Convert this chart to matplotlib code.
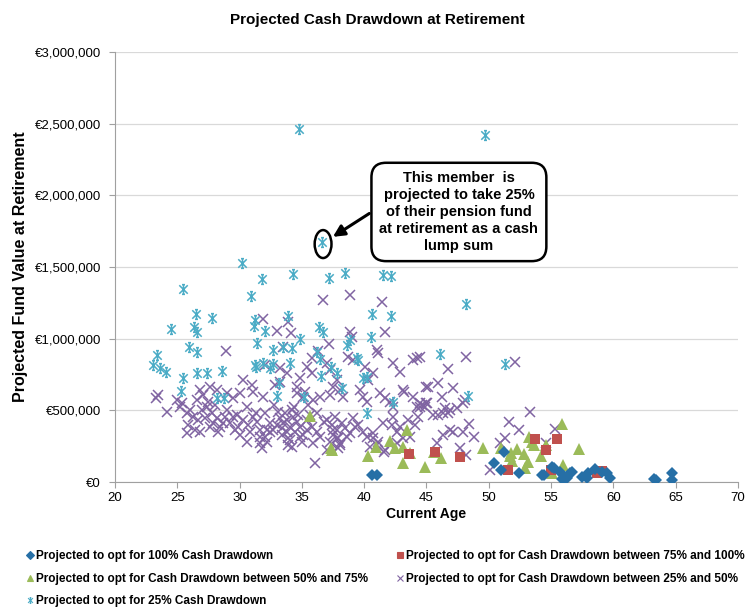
import numpy as np
import matplotlib
matplotlib.use("Agg")
import matplotlib.pyplot as plt
from matplotlib.path import Path
from matplotlib.patches import Ellipse
from matplotlib.lines import Line2D

plt.rcParams['font.family'] = ['Liberation Sans', 'DejaVu Sans']

# ---- data (age, projected fund value in EUR thousands) ----
age_100 = [40.6, 41.0, 50.4, 51.2, 51.0, 52.4, 54.3, 54.4, 55.05, 55.2, 55.7, 55.9, 56.1,
           56.25, 56.5, 56.65, 57.45, 57.85, 58.0, 58.5, 59.06, 59.46, 59.73, 63.26, 63.4,
           64.68, 64.68]
val_100 = [49, 49, 130, 211, 84, 60, 49, 49, 107, 96, 72, 19, 26,
           26, 60, 72, 37, 26, 60, 89, 72, 60, 26, 21, 14,
           60, 14]

age_75_100 = [43.6, 45.68, 47.7, 51.57, 53.7, 54.6, 55.47, 55.0, 58.7, 59.06]
val_75_100 = [195, 207, 172, 84, 300, 223, 298, 84, 65, 79]

age_50_75 = [35.65, 37.4, 37.35, 40.33, 40.95, 42.07, 42.47, 43.14, 43.4, 43.7, 43.08, 44.9,
             45.6, 46.2, 49.5, 50.95, 51.7, 51.9, 51.75, 52.3, 52.85, 53.17, 52.9, 53.25,
             53.5, 53.6, 54.2, 54.6, 55.05, 55.85, 55.93, 57.24]
val_50_75 = [463, 223, 240, 181, 246, 286, 235, 242, 365, 200, 130, 107,
             207, 165, 240, 235, 181, 149, 200, 230, 193, 142, 96, 312,
             281, 258, 181, 258, 65, 405, 119, 228]

age_25_50 = [26.02, 26.29, 26.69, 25.89, 26.42, 26.82, 25.75, 27.36, 27.76, 28.16, 27.89, 28.43,
             28.83, 28.29, 29.23, 29.63, 30.03, 30.3, 30.7, 31.1, 31.37, 31.64, 30.57, 31.64,
             32.17, 31.77, 32.44, 32.71, 33.24, 33.51, 33.78, 34.05, 34.31, 34.58, 34.85, 33.38,
             33.91, 34.45, 35.12, 34.18, 35.38, 35.78, 36.19, 36.45, 35.92, 34.98, 35.65, 36.99,
             37.39, 37.79, 37.52, 37.92, 38.06, 37.66, 38.19, 38.46, 37.26, 37.92, 38.59, 39.13,
             39.53, 39.93, 40.2, 40.73, 41.13, 40.47, 41.67, 41.54, 42.34, 42.87, 43.54, 44.08,
             44.34, 43.68, 42.61, 36.05,
             33.64, 34.18, 34.71, 32.97, 33.38, 35.38, 33.78, 34.85,
             25.22, 26.96, 27.22, 27.62, 28.69, 29.5, 29.9, 30.84, 32.04, 32.44,
             36.72, 38.86, 41.4, 31.85, 33.91, 41.67, 32.97, 34.1, 38.86, 38.99, 37.2, 28.91,
             33.51, 36.32, 41.0, 41.13, 35.84, 38.73, 39.13, 42.34, 42.87, 43.94, 44.21, 32.04,
             33.24, 33.78, 35.38, 35.78, 36.99, 37.26, 40.06, 40.73, 40.33, 30.3, 30.97, 32.84,
             33.24, 34.85, 34.58, 35.25, 37.52, 37.79, 38.06, 38.33, 39.66, 39.93, 40.2, 41.27,
             41.67, 42.07, 42.34, 43.14, 43.94, 44.48, 45.15, 23.48, 23.29, 24.95, 25.35, 24.15,
             25.75, 26.82, 27.09, 26.55, 27.62, 28.16, 28.96, 29.5, 30.03, 31.1, 31.9, 34.58,
             35.12, 35.92, 36.45, 37.26,
             48.15, 52.1, 46.75, 45.95, 45.0, 47.1, 44.48, 44.48, 44.88, 45.0, 45.55, 45.95,
             46.35, 46.75, 46.49, 47.42, 47.96, 48.09, 53.31, 51.65, 48.44, 47.16, 47.96, 46.89,
             46.35, 52.43, 51.3, 50.9, 48.84, 45.82, 47.69, 48.17, 54.59, 55.31, 50.1,
             43.2, 44.21, 44.61, 45.01, 46.22, 46.89,
             41.59, 40.73, 41.0, 42.2, 42.6, 43.14, 36.99, 38.06, 37.79, 37.52, 38.86, 39.26,
             33.91, 34.04, 31.64, 32.04, 32.17,
             27.5, 28.0, 29.0, 29.8, 30.6, 31.3, 32.8, 33.1, 34.4, 35.5, 36.2, 36.8]
val_25_50 = [502, 456, 433, 398, 363, 351, 340, 526, 479, 444, 409, 386,
             456, 351, 409, 363, 328, 433, 398, 456, 421, 363, 281, 316,
             281, 235, 409, 363, 444, 409, 433, 386, 456, 421, 386, 328,
             305, 351, 328, 247, 433, 386, 351, 316, 270, 281, 467, 433,
             398, 363, 328, 305, 270, 456, 409, 374, 281, 235, 316, 444,
             398, 351, 316, 340, 281, 247, 223, 409, 456, 386, 433, 398,
             456, 316, 270, 130,
             479, 502, 467, 398, 374, 363, 351, 316,
             526, 502, 444, 386, 409, 456, 386, 351, 479, 351,
             1270, 1305, 1258, 1135, 1119, 1049, 1056, 1042, 1049, 1009, 963, 916,
             944, 916, 921, 898, 863, 870, 851, 828, 770, 851, 863, 816,
             793, 758, 805, 758, 828, 781, 800, 758, 712, 712, 677, 677,
             700, 723, 665, 630, 665, 712, 642, 595, 642, 595, 560, 619,
             584, 560, 526, 642, 595, 526, 665, 607, 584, 572, 549, 491,
             479, 642, 607, 572, 665, 642, 619, 584, 619, 630, 595, 619,
             595, 572, 595, 607,
             874, 840, 786, 688, 665, 654, 874, 549, 526, 549, 467, 467,
             479, 479, 514, 514, 549, 572, 486, 416, 405, 351, 351, 363,
             328, 363, 305, 274, 312, 270, 235, 188, 270, 370, 84,
             630, 526, 537, 549, 595, 502,
             212, 305, 258, 398, 351, 305, 223, 258, 305, 363, 340, 386,
             258, 293, 270, 316, 363,
             560, 540, 500, 470, 520, 480, 540, 490, 520, 540, 480, 420]

age_25 = [34.8, 49.7, 36.65, 30.17, 25.43, 31.82, 34.31, 37.17, 38.46, 41.48, 42.15, 30.89,
          26.5, 27.76, 24.49, 26.37, 26.56, 31.24, 31.16, 32.06, 31.42, 33.86, 40.6, 42.13,
          36.37, 36.72, 40.52, 34.85, 25.97, 26.6, 33.45, 34.18, 32.65, 36.24, 36.45, 38.6,
          38.9, 39.4, 39.5, 23.35, 23.02, 23.6, 24.07, 31.2, 31.3, 31.85, 32.65, 32.44,
          34.04, 37.33, 36.53, 37.84, 26.6, 27.4, 28.56, 25.43, 25.3, 38.2, 39.93, 40.2,
          33.16, 32.98, 35.17, 28.2, 28.75, 42.28, 40.2, 48.15, 46.08, 51.3, 48.36]
val_25 = [2460, 2420, 1675, 1530, 1350, 1414, 1451, 1421, 1460, 1444, 1437, 1300,
          1170, 1142, 1070, 1084, 1044, 1130, 1090, 1053, 968, 1160, 1170, 1158,
          1084, 1044, 1014, 996, 944, 905, 944, 933, 921, 909, 858, 956,
          990, 863, 851, 886, 816, 793, 765, 816, 800, 828, 823, 793,
          828, 800, 740, 758, 758, 758, 777, 728, 637, 658, 723, 735,
          689, 602, 595, 584, 584, 556, 479, 1240, 893, 820, 602]

y_ticks = [0, 500000, 1000000, 1500000, 2000000, 2500000, 3000000]
y_tick_labels = ['€0', '€500,000', '€1,000,000', '€1,500,000', '€2,000,000', '€2,500,000', '€3,000,000']
x_ticks = [20, 25, 30, 35, 40, 45, 50, 55, 60, 65, 70]

labels = ['Projected to opt for 100% Cash Drawdown',
          'Projected to opt for Cash Drawdown between 75% and 100%',
          'Projected to opt for Cash Drawdown between 50% and 75%',
          'Projected to opt for Cash Drawdown between 25% and 50%',
          'Projected to opt for 25% Cash Drawdown']

c_blue, c_red, c_green, c_purple, c_cyan = '#266FA6', '#C0504D', '#9BBB59', '#8064A2', '#4BACC6'

# excel-like star marker: X with vertical bar and small caps
star = Path([(-1, -1), (1, 1), (-1, 1), (1, -1), (0, -1.15), (0, 1.15),
             (-0.35, 1.15), (0.35, 1.15), (-0.35, -1.15), (0.35, -1.15)],
            [Path.MOVETO, Path.LINETO] * 5)

fig = plt.figure(figsize=(7.55, 6.08), dpi=100)
ax = fig.add_axes([0.1523, 0.2072, 0.8252, 0.7073])

k = 1000.0
ax.plot(age_25_50, np.array(val_25_50) * k, 'x', color=c_purple, ms=7, mew=1.1, ls='none', zorder=3)
ax.plot(age_25, np.array(val_25) * k, ls='none', marker=star, color=c_cyan, ms=7, mew=1.1, zorder=3)
ax.plot(age_50_75, np.array(val_50_75) * k, '^', color=c_green, ms=8, mew=0, ls='none', zorder=4)
ax.plot(age_75_100, np.array(val_75_100) * k, 's', color=c_red, ms=7, mew=0, ls='none', zorder=4)
ax.plot(age_100, np.array(val_100) * k, 'D', color=c_blue, ms=6.5, mew=0, ls='none', zorder=5)

ax.set_xlim(20, 70)
ax.set_ylim(0, 3000000)
ax.set_xticks(x_ticks)
ax.set_yticks(y_ticks)
ax.set_yticklabels(y_tick_labels)
ax.tick_params(labelsize=9.5, length=4, color='#A0A0A0', direction='out')
ax.tick_params(axis='y', pad=6)
ax.yaxis.grid(True, color='#D9D9D9', lw=0.9)
ax.set_axisbelow(True)
for s in ['top', 'right']:
    ax.spines[s].set_visible(False)
for s in ['left', 'bottom']:
    ax.spines[s].set_color('#A0A0A0')

ax.set_xlabel('Current Age', fontsize=10, fontweight='bold', labelpad=2)
ax.set_ylabel('Projected Fund Value at Retirement', fontsize=11.5, fontweight='bold', labelpad=5)
fig.text(0.5, 1 - 20 / 608, 'Projected Cash Drawdown at Retirement', ha='center', va='center',
         fontsize=11, fontweight='bold')

# callout
ax.add_patch(Ellipse((36.7, 1660000), 1.35, 195000, fill=False, ec='black', lw=1.8, zorder=6))
ax.annotate('', xy=(37.3, 1700000), xytext=(40.6, 1884000),
            arrowprops=dict(arrowstyle='-|>', color='black', lw=2.2, mutation_scale=17), zorder=6)
ax.text(47.6, 1884000, 'This member  is\nprojected to take 25%\nof their pension fund\nat retirement as a cash\nlump sum',
        ha='center', va='center', fontsize=10.5, fontweight='bold', linespacing=1.28, zorder=7,
        bbox=dict(boxstyle='round,pad=0.55,rounding_size=1.0', fc='white', ec='black', lw=1.8))

# legend
h = lambda m, c, ms: Line2D([], [], ls='none', marker=m, color=c, ms=ms, mew=0.8)
handles = [h('D', c_blue, 4), h('^', c_green, 5), h(star, c_cyan, 4),
           h('s', c_red, 5), h('x', c_purple, 5)]
leg_labels = [labels[0], labels[2], labels[4], labels[1], labels[3]]
fig.legend(handles, leg_labels, ncol=2, loc='upper left', bbox_to_anchor=(0.02, 0.112),
           frameon=False, handlelength=0.7, handletextpad=0.15, columnspacing=2.4,
           labelspacing=0.88, prop=dict(weight='bold', size=8.45))

fig.savefig('out.png', dpi=100)
